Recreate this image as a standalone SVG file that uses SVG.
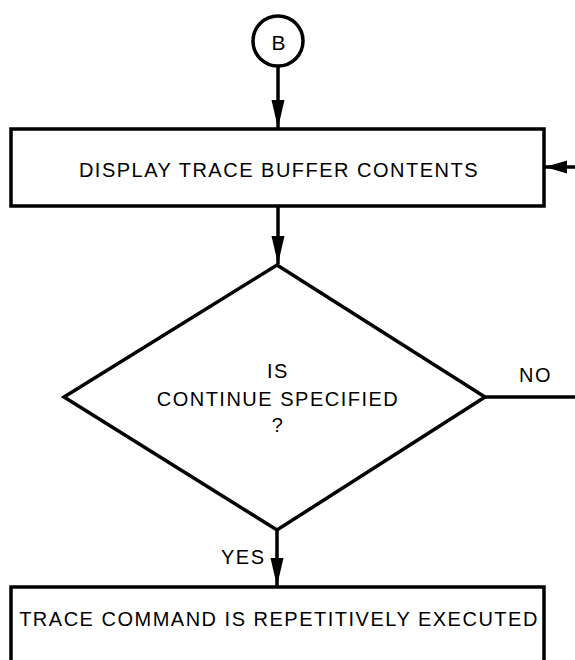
<svg xmlns="http://www.w3.org/2000/svg" width="575" height="660" viewBox="0 0 575 660">
<style>
.s{fill:none;stroke:#000;stroke-width:3.5;stroke-linejoin:miter}
.n{fill:#fff;stroke:#000;stroke-width:3.5}
.t{font-family:"Liberation Sans",Arial,sans-serif;font-size:20px;letter-spacing:1.5px;fill:#000;text-anchor:middle}
.l{font-family:"Liberation Sans",Arial,sans-serif;font-size:20px;letter-spacing:1.5px;fill:#000}
</style>
<defs>
<marker id="ah" markerUnits="userSpaceOnUse" markerWidth="28" markerHeight="14" refX="28" refY="7" orient="auto" viewBox="0 0 28 14">
<path d="M0,0.5 L28,7 L0,13.5 Z" fill="#000"/>
</marker>
<marker id="ahs" markerUnits="userSpaceOnUse" markerWidth="22" markerHeight="14" refX="22" refY="7" orient="auto" viewBox="0 0 22 14">
<path d="M0,0.5 L22,7 L0,13.5 Z" fill="#000"/>
</marker>
</defs>
<rect width="575" height="660" fill="#fff"/>
<g id="connectors">
<path class="s" d="M278,66 V128" marker-end="url(#ah)"/>
<path class="s" d="M278,206 V264" marker-end="url(#ah)"/>
<path class="s" d="M575,167 H545" marker-end="url(#ahs)"/>
<path class="s" d="M485,397 H575"/>
<path class="s" d="M277,530 V586" marker-end="url(#ah)"/>
<text class="l" x="519" y="382">NO</text>
<text class="l" x="221" y="564">YES</text>
</g>
<g id="nodeB">
<circle class="n" cx="278" cy="41" r="25"/>
<text class="t" x="278.5" y="50" style="font-size:21px;letter-spacing:0">B</text>
</g>
<g id="display">
<rect class="n" x="11" y="129" width="533" height="77"/>
<text class="t" x="279" y="177">DISPLAY TRACE BUFFER CONTENTS</text>
</g>
<g id="decision">
<polygon class="n" points="277,265 485,397 277,530 64,397"/>
<text class="t" x="278" y="377.5">IS</text>
<text class="t" x="278" y="405.5">CONTINUE SPECIFIED</text>
<text class="t" x="278" y="431.5">?</text>
</g>
<g id="repeat">
<rect class="n" x="11" y="587" width="533" height="90"/>
<text class="t" x="279" y="626">TRACE COMMAND IS REPETITIVELY EXECUTED</text>
</g>
</svg>
